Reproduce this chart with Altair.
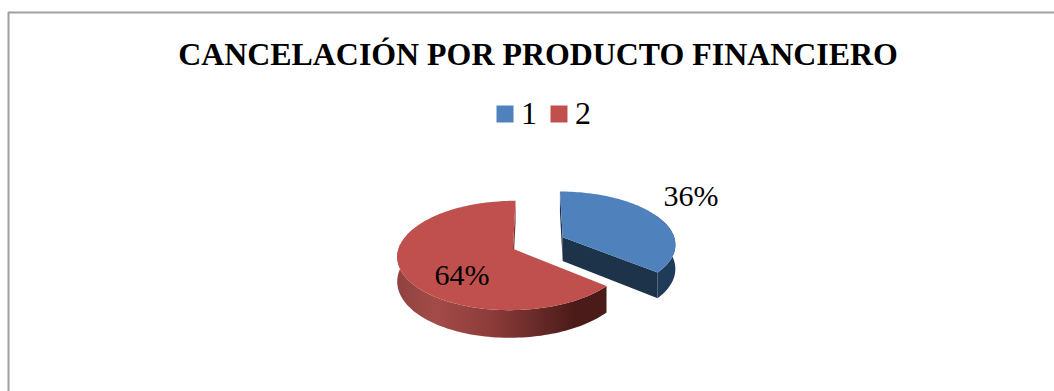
import altair as alt
import numpy as np
import pandas as pd

TITLE = "CANCELACIÓN POR PRODUCTO FINANCIERO"
series = ["1", "2"]
shares = [36, 64]
colors = ["#4f81bd", "#c0504d"]

W, H = 1054, 391
CX, CY = 537, 243      # vanishing centre of the tilted pie
RX, RY = 113, 52.5     # horizontal and vertical radius
TILT = 0.119           # perspective strength
DEPTH = 24             # extrusion of the pie
OFFSETS = {"1": (0.23, -0.11), "2": (-0.21, 0.11)}  # exploded slice centres


def project(wx, wy, z=0.0):
    """Map pie coordinates onto the page with a mild perspective."""
    k = 1 - TILT * np.asarray(wy)
    return CX + RX * np.asarray(wx) / k, CY + (RY * np.asarray(wy) + z * DEPTH) / k


def polygon(name, wx, wy, z):
    px, py = project(np.asarray(wx), np.asarray(wy), np.asarray(z, dtype=float))
    return pd.DataFrame({"face": name, "x": px, "y": py, "ord": np.arange(len(px))})


# Slice 1 runs clockwise from twelve o'clock; slice 2 takes the remainder.
end_1 = -np.pi / 2 + shares[0] / 100 * 2 * np.pi
t1 = np.linspace(-np.pi / 2, end_1, 80)
t2 = np.linspace(end_1, 3 * np.pi / 2, 140)
ox1, oy1 = OFFSETS["1"]
ox2, oy2 = OFFSETS["2"]

# Top faces
top1 = polygon("1", np.r_[ox1, ox1 + np.cos(t1)], np.r_[oy1, oy1 + np.sin(t1)], np.zeros(81))
top2 = polygon("2", np.r_[ox2, ox2 + np.cos(t2)], np.r_[oy2, oy2 + np.sin(t2)], np.zeros(141))
tops = pd.concat([top1, top2])

# Outer rims: only the parts of each arc facing the viewer
rim_t1 = t1[t1 >= np.arcsin(TILT) - 0.6]
rim1 = polygon(
    "rim1",
    np.r_[ox1 + np.cos(rim_t1), (ox1 + np.cos(rim_t1))[::-1]],
    np.r_[oy1 + np.sin(rim_t1), (oy1 + np.sin(rim_t1))[::-1]],
    np.r_[np.zeros(len(rim_t1)), np.ones(len(rim_t1))],
)
rim_t2 = t2[t2 <= np.pi + 0.12]
rim2 = polygon(
    "rim2",
    np.r_[ox2 + np.cos(rim_t2), (ox2 + np.cos(rim_t2))[::-1]],
    np.r_[oy2 + np.sin(rim_t2), (oy2 + np.sin(rim_t2))[::-1]],
    np.r_[np.zeros(len(rim_t2)), np.ones(len(rim_t2))],
)

# Cut walls of the exploded slices
wall_inner1 = polygon(
    "inner1",
    [ox1, ox1 + np.cos(end_1), ox1 + np.cos(end_1), ox1],
    [oy1, oy1 + np.sin(end_1), oy1 + np.sin(end_1), oy1],
    [0, 0, 1, 1],
)
wall_back1 = polygon("back1", [ox1, ox1, ox1, ox1], [oy1 - 1, oy1, oy1, oy1 - 1], [0, 0, 1, 1])
wall_back2 = polygon("back2", [ox2, ox2, ox2, ox2], [oy2 - 1, oy2, oy2, oy2 - 1], [0, 0, 1, 1])

x_enc = alt.X("x:Q", scale=alt.Scale(domain=[0, W], range=[0, W], nice=False, zero=False), axis=None)
y_enc = alt.Y("y:Q", scale=alt.Scale(domain=[H, 0], range=[H, 0], nice=False, zero=False), axis=None)


def face(df, fill):
    return (
        alt.Chart(df)
        .mark_line(fill=fill, strokeWidth=0, stroke="transparent", interpolate="linear-closed")
        .encode(x=x_enc, y=y_enc, order="ord:Q")
    )


red_rim_fill = alt.Gradient(
    gradient="linear",
    x1=0, x2=1, y1=0, y2=0,
    stops=[
        alt.GradientStop(color="#8f4240", offset=0),
        alt.GradientStop(color="#a34b48", offset=0.18),
        alt.GradientStop(color="#8c3c3a", offset=0.45),
        alt.GradientStop(color="#4a1b19", offset=0.85),
        alt.GradientStop(color="#4a1b19", offset=1),
    ],
)

top_faces = (
    alt.Chart(tops)
    .mark_line(strokeWidth=0, stroke="transparent", interpolate="linear-closed")
    .encode(
        x=x_enc,
        y=y_enc,
        order="ord:Q",
        fill=alt.Fill(
            "face:N",
            scale=alt.Scale(domain=series, range=colors),
            legend=alt.Legend(
                title=None,
                orient="none",
                legendX=489,
                legendY=98,
                direction="horizontal",
                symbolType="square",
                symbolSize=289,
                symbolStrokeWidth=0,
                labelFont="Liberation Serif",
                labelFontSize=32,
                labelColor="#000000",
                labelOffset=0,
                columnPadding=6,
            ),
        ),
    )
)

border_left = alt.Chart(pd.DataFrame({"a": [0]})).mark_rule(color="#a0a0a0", strokeWidth=2).encode(
    x=alt.value(8.5), y=alt.value(12), y2=alt.value(H)
)
border_top = alt.Chart(pd.DataFrame({"a": [0]})).mark_rule(color="#a0a0a0", strokeWidth=2).encode(
    x=alt.value(8), x2=alt.value(W), y=alt.value(12.5)
)

title = alt.Chart(pd.DataFrame({"t": [TITLE]})).mark_text(
    font="Liberation Serif", fontWeight="bold", fontSize=31.9, color="#000000", align="center", baseline="alphabetic"
).encode(x=alt.value(538), y=alt.value(65), text="t:N")


def pct_label(value, px, py):
    return alt.Chart(pd.DataFrame({"t": [f"{value}%"]})).mark_text(
        font="Liberation Serif", fontSize=30, color="#000000", align="center", baseline="alphabetic"
    ).encode(x=alt.value(px), y=alt.value(py), text="t:N")


chart = alt.layer(
    border_left,
    border_top,
    title,
    face(wall_back2, "#7a3432"),
    face(rim2, red_rim_fill),
    face(wall_back1, "#1d3349"),
    face(wall_inner1, "#1d3349"),
    face(rim1, "#203b59"),
    top_faces,
    pct_label(shares[0], 691, 206),
    pct_label(shares[1], 462, 285),
).properties(
    width=W,
    height=H,
    padding=0,
    autosize=alt.AutoSizeParams(type="none"),
    background="#ffffff",
).configure_view(stroke=None)

chart.save("out.html", embed_options={"renderer": "svg", "actions": False})
